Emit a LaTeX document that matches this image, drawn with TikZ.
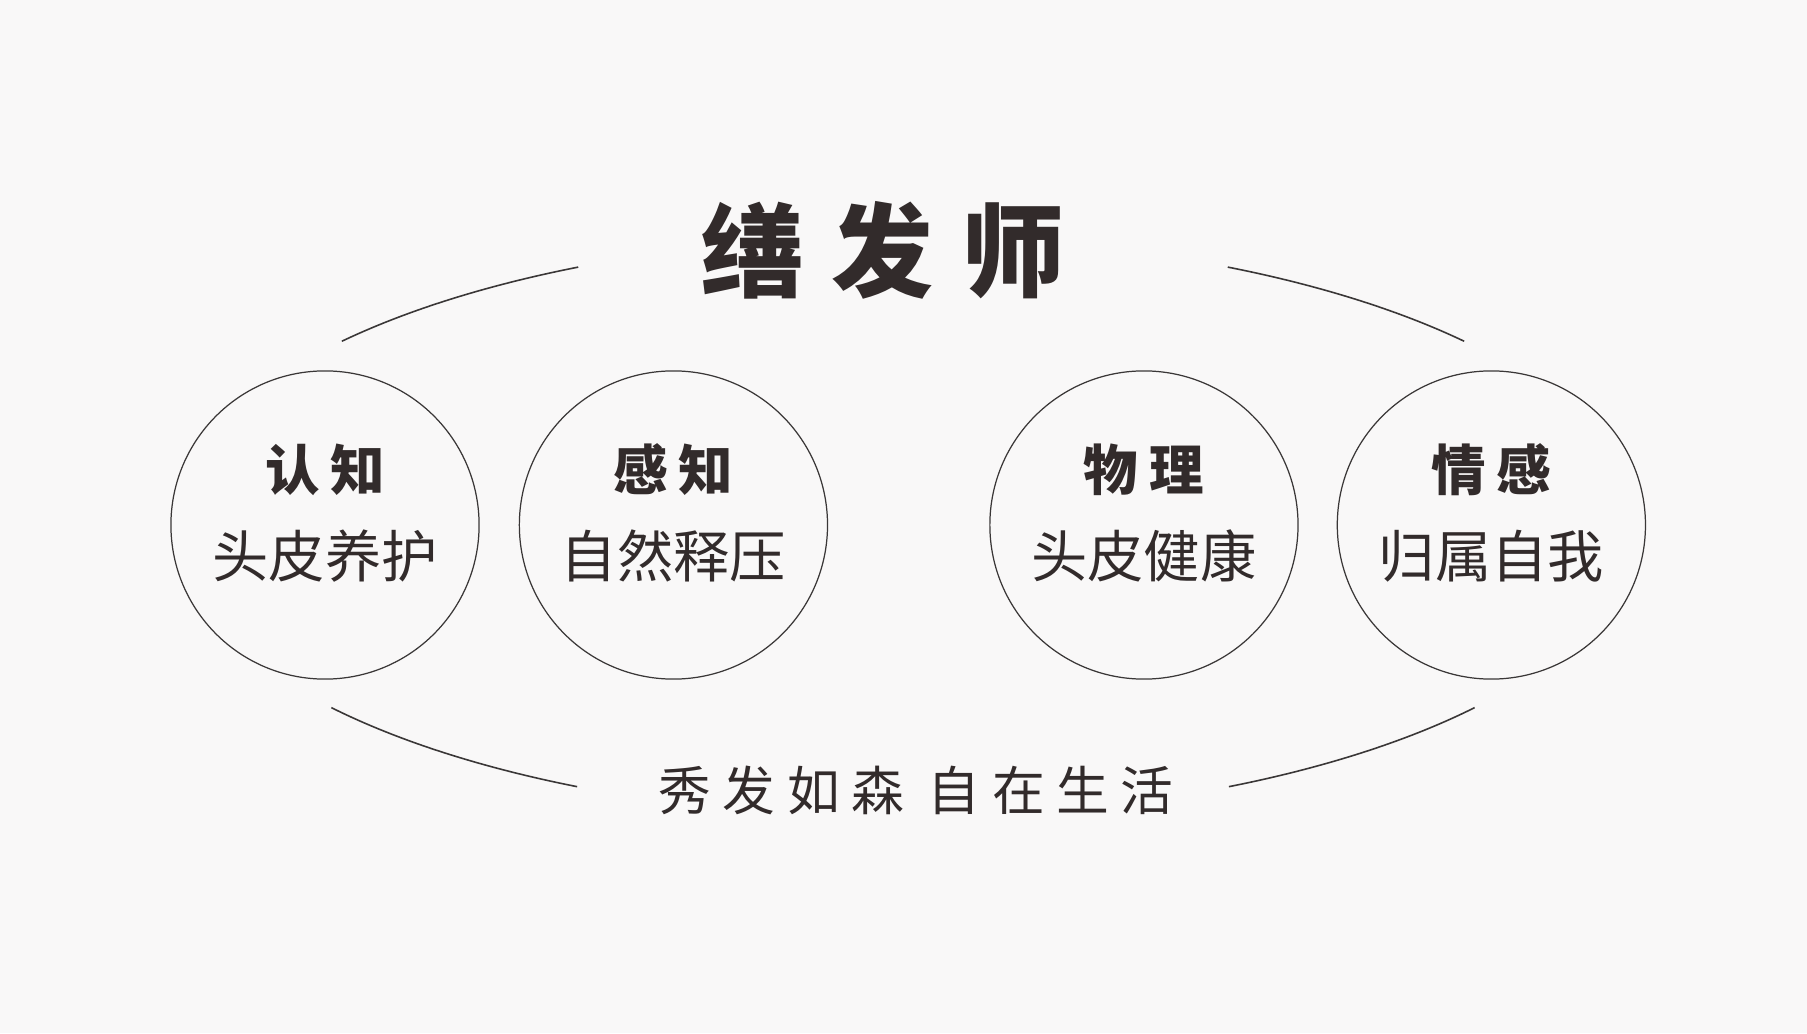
\documentclass[tikz,border=0pt]{standalone}
\usepackage{fontspec}
\usepackage{tikz}
\usetikzlibrary{positioning, calc}
\newfontfamily\cjk{Noto Sans CJK SC}
\definecolor{InkBrown}{RGB}{50, 43, 43}
\definecolor{PaperWhite}{RGB}{249, 248, 248}
\definecolor{LineGray}{RGB}{58, 55, 55}

\begin{document}
\begin{tikzpicture}[
    x=0.01cm, y=0.01cm,
    ring/.style={circle, draw=LineGray, line width=0.35pt, minimum size=3.08cm, inner sep=0pt},
    rim/.style={draw=LineGray, line width=0.45pt},
    title/.style={font={\fontsize{29}{35}\cjk\bfseries\addfontfeature{LetterSpace=28}}, text=InkBrown, inner sep=0pt},
    head/.style={font={\fontsize{15.5}{18}\cjk\bfseries\addfontfeature{LetterSpace=20}}, text=InkBrown, inner sep=0pt},
    sub/.style={font={\fontsize{16}{19}\cjk}, text=InkBrown, inner sep=0pt},
    motto/.style={font={\fontsize{15}{18}\cjk\addfontfeature{LetterSpace=22}}, text=InkBrown, inner sep=0pt}
]

\fill[PaperWhite] (0,0) rectangle (1807,1033);
\useasboundingbox (0,0) rectangle (1807,1033);

\node[title] (title) at (883, 783) {缮发师};

\node[ring] (c1) at (325, 508) {};
\node[ring, right=0.39cm of c1] (c2) {};
\node[ring, right=1.61cm of c2] (c3) {};
\node[ring, right=0.38cm of c3] (c4) {};

\node[head] (c1head) at ([yshift=0.55cm]c1.center) {认知};
\node[sub] (c1sub) at ([yshift=-0.31cm]c1.center) {头皮养护};
\node[head] (c2head) at ([yshift=0.55cm]c2.center) {感知};
\node[sub] (c2sub) at ([yshift=-0.31cm]c2.center) {自然释压};
\node[head] (c3head) at ([yshift=0.55cm]c3.center) {物理};
\node[sub] (c3sub) at ([yshift=-0.31cm]c3.center) {头皮健康};
\node[head] (c4head) at ([yshift=0.55cm]c4.center) {情感};
\node[sub] (c4sub) at ([yshift=-0.31cm]c4.center) {归属自我};

\node[motto] (motto) at (916, 243) {秀发如森 自在生活};

% outer ring, broken at the title and the motto
\coordinate (mid) at (903, 506);
\draw[rim] ($(mid)+(116.4:7.3cm and 2.9cm)$) arc[start angle=116.4, end angle=140.2, x radius=7.3cm, y radius=2.9cm];
\draw[rim] ($(mid)+(39.8:7.3cm and 2.9cm)$) arc[start angle=39.8, end angle=63.6, x radius=7.3cm, y radius=2.9cm];
\draw[rim] ($(mid)+(218.5:7.3cm and 2.9cm)$) arc[start angle=218.5, end angle=243.5, x radius=7.3cm, y radius=2.9cm];
\draw[rim] ($(mid)+(296.5:7.3cm and 2.9cm)$) arc[start angle=296.5, end angle=321.5, x radius=7.3cm, y radius=2.9cm];

\end{tikzpicture}
\end{document}
